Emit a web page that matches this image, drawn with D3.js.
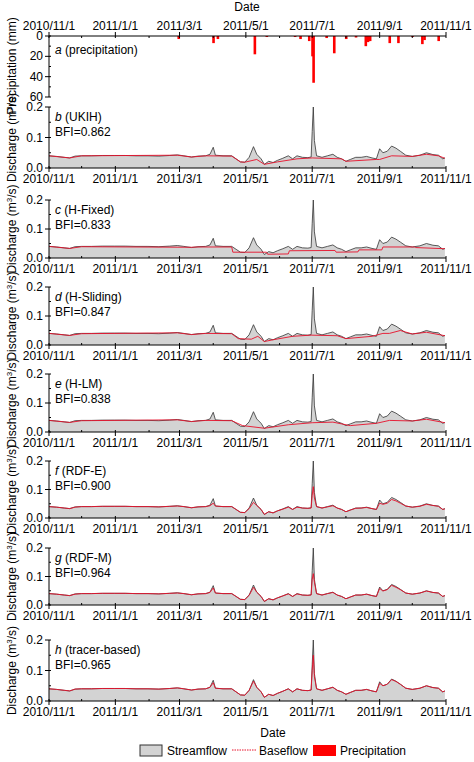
<!DOCTYPE html>
<html><head><meta charset="utf-8">
<script src="https://cdn.jsdelivr.net/npm/d3@7"></script>
<style>body{margin:0;background:#fff}text{font-family:Arial,"Liberation Sans",sans-serif}</style>
</head><body>
<svg id="chart" width="474" height="762"></svg>
<script>
const flowDates = ["2010-11-01","2010-11-08","2010-11-15","2010-11-20","2010-11-25","2010-12-01","2010-12-10","2010-12-20","2010-12-31","2011-01-10","2011-01-20","2011-01-31","2011-02-10","2011-02-20","2011-02-27","2011-03-05","2011-03-12","2011-03-18","2011-03-25","2011-03-29","2011-04-01","2011-04-03","2011-04-10","2011-04-18","2011-04-22","2011-04-26","2011-04-30","2011-05-04","2011-05-08","2011-05-11","2011-05-15","2011-05-18","2011-05-22","2011-05-26","2011-05-30","2011-06-04","2011-06-09","2011-06-13","2011-06-17","2011-06-22","2011-06-27","2011-06-30","2011-07-01","2011-07-02","2011-07-03","2011-07-05","2011-07-10","2011-07-15","2011-07-20","2011-07-24","2011-07-28","2011-08-01","2011-08-05","2011-08-10","2011-08-15","2011-08-20","2011-08-25","2011-08-29","2011-09-01","2011-09-04","2011-09-08","2011-09-12","2011-09-16","2011-09-20","2011-09-25","2011-10-01","2011-10-08","2011-10-14","2011-10-20","2011-10-25","2011-10-29","2011-10-31"];
const streamflow = [.040,.038,.035,.033,.039,.040,.040,.041,.041,.041,.040,.040,.039,.041,.043,.040,.036,.039,.040,.045,.068,.042,.040,.040,.030,.020,.019,.035,.070,.045,.030,.012,.022,.018,.025,.032,.040,.030,.040,.035,.034,.036,.120,.200,.090,.040,.035,.040,.045,.035,.030,.022,.028,.035,.035,.038,.033,.030,.063,.050,.055,.072,.065,.055,.042,.038,.042,.050,.044,.042,.030,.033];

// baseflow from the three digital filter / tracer methods, same dates as streamflow
const baseRdfE   = [.040,.038,.035,.033,.038,.040,.040,.041,.041,.041,.040,.040,.039,.041,.042,.040,.036,.039,.040,.043,.052,.042,.040,.040,.030,.020,.019,.033,.055,.044,.030,.013,.022,.018,.025,.031,.038,.030,.038,.035,.034,.035,.080,.110,.070,.040,.035,.039,.043,.035,.030,.022,.028,.034,.035,.037,.033,.030,.052,.048,.052,.065,.060,.052,.042,.038,.041,.048,.044,.041,.030,.032];
const baseRdfM   = [.040,.038,.035,.033,.038,.040,.040,.041,.041,.041,.040,.040,.039,.041,.042,.040,.036,.039,.040,.044,.060,.042,.040,.040,.030,.020,.019,.034,.062,.045,.030,.013,.022,.018,.025,.032,.039,.030,.039,.035,.034,.035,.090,.110,.080,.040,.035,.040,.044,.035,.030,.022,.028,.035,.035,.038,.033,.030,.058,.049,.054,.069,.062,.054,.042,.038,.042,.049,.044,.042,.030,.033];
const baseTracer = [.040,.038,.035,.033,.039,.040,.040,.041,.041,.041,.040,.040,.039,.041,.043,.040,.036,.039,.040,.045,.060,.042,.040,.040,.030,.020,.019,.035,.065,.045,.030,.012,.022,.018,.025,.032,.040,.030,.040,.035,.034,.036,.100,.150,.080,.040,.035,.040,.045,.035,.030,.022,.028,.035,.035,.038,.033,.030,.058,.050,.055,.070,.064,.055,.042,.038,.042,.050,.044,.042,.030,.033];

// baseflow from the separation methods, each on its own dates
const ukihDates = ["2010-11-01","2010-11-20","2010-12-01","2011-02-27","2011-03-12","2011-03-25","2011-04-18","2011-04-26","2011-04-30","2011-05-11","2011-05-18","2011-05-30","2011-06-17","2011-07-01","2011-07-28","2011-08-01","2011-08-29","2011-09-01","2011-09-12","2011-10-01","2011-10-14","2011-10-25","2011-10-31"];
const ukihBase = [.040,.033,.040,.042,.036,.040,.039,.020,.019,.028,.012,.020,.030,.033,.030,.022,.028,.028,.040,.038,.045,.040,.032];
const fixedDates = ["2010-11-01","2010-11-20","2010-12-01","2011-03-12","2011-03-18","2011-04-18","2011-04-19","2011-05-20","2011-05-21","2011-06-09","2011-06-10","2011-07-22","2011-07-23","2011-08-12","2011-08-13","2011-09-03","2011-09-04","2011-10-03","2011-10-04","2011-10-31"];
const fixedBase = [.040,.033,.039,.037,.038,.038,.020,.020,.013,.014,.025,.026,.020,.021,.028,.028,.038,.038,.036,.032];
const slidingDates = ["2010-11-01","2010-11-20","2010-12-01","2011-02-27","2011-03-12","2011-03-25","2011-04-18","2011-04-24","2011-05-06","2011-05-12","2011-05-18","2011-05-26","2011-06-13","2011-06-30","2011-07-24","2011-08-01","2011-08-25","2011-09-04","2011-09-10","2011-09-20","2011-10-01","2011-10-14","2011-10-31"];
const slidingBase = [.040,.033,.039,.042,.036,.040,.039,.022,.020,.030,.012,.018,.030,.034,.032,.022,.030,.040,.040,.050,.038,.044,.032];
const lmDates = ["2010-11-01","2010-11-20","2010-12-01","2011-02-27","2011-03-12","2011-03-25","2011-04-18","2011-04-28","2011-05-18","2011-06-09","2011-07-01","2011-07-20","2011-08-05","2011-08-29","2011-09-10","2011-10-01","2011-10-14","2011-10-31"];
const lmBase = [.040,.033,.039,.042,.036,.040,.039,.022,.013,.025,.032,.034,.022,.030,.040,.038,.044,.032];

const rainDates = ["2011-02-28","2011-04-01","2011-04-05","2011-05-09","2011-05-20","2011-06-15","2011-06-20","2011-06-28","2011-07-01","2011-07-02","2011-07-14","2011-07-21","2011-08-01","2011-08-10","2011-08-19","2011-08-21","2011-08-23","2011-09-10","2011-09-18","2011-10-01","2011-10-10","2011-10-12","2011-10-25"];
const rain = [3,7,3,18,1,1,3,5,20,46,2,17,3,1.5,10,6,5,7,7,1,8,4,5];

const panelLabels = ["b","c","d","e","f","g","h"];
const panelNames = ["(UKIH)","(H-Fixed)","(H-Sliding)","(H-LM)","(RDF-E)","(RDF-M)","(tracer-based)"];
const bfi = ["0.862","0.833","0.847","0.838","0.900","0.964","0.965"];
const tickDates = ["2010-11-01","2011-01-01","2011-03-01","2011-05-01","2011-07-01","2011-09-01","2011-11-01"];

const parse = d3.timeParse("%Y-%m-%d");
const flow = flowDates.map((d, i) => ({date: parse(d), v: streamflow[i]}));
const zip = (ds, vs) => ds.map((d, i) => ({date: parse(d), v: vs[i]}));
const baseflows = [
    zip(ukihDates, ukihBase), zip(fixedDates, fixedBase), zip(slidingDates, slidingBase), zip(lmDates, lmBase),
    zip(flowDates, baseRdfE), zip(flowDates, baseRdfM), zip(flowDates, baseTracer)
];

const svg = d3.select("#chart");
const left = 49, right = 446;
const x = d3.scaleTime().domain([parse("2010-11-01"), parse("2011-11-01")]).range([left, right]);
const majors = tickDates.map(parse);
const minors = d3.timeMonth.range(parse("2010-11-01"), parse("2011-11-02"));
const fmt = d3.timeFormat("%Y/%-m/%-d");
const font = 12;
const isMajor = d => majors.some(m => +m === +d);

function xAxis(g, y0, top) {
    g.append("line").attr("x1", left).attr("x2", right).attr("y1", y0).attr("y2", y0).attr("stroke", "#000");
    const dir = top ? -1 : 1;
    g.selectAll(null).data(minors).join("line")
        .attr("x1", d => x(d)).attr("x2", d => x(d))
        .attr("y1", y0 - dir * 2).attr("y2", d => y0 + (isMajor(d) ? dir * 4 : 0))
        .attr("stroke", "#000");
    g.selectAll(null).data(majors).join("text")
        .attr("x", d => x(d)).attr("y", top ? y0 - 6 : y0 + 15)
        .attr("text-anchor", "middle").attr("font-size", font).text(fmt);
}

function yAxis(g, y, ticks, minorTicks, f) {
    const [y1, y2] = y.range();
    g.append("line").attr("x1", left).attr("x2", left).attr("y1", y1).attr("y2", y2).attr("stroke", "#000");
    g.selectAll(null).data(minorTicks).join("line")
        .attr("x1", left).attr("x2", left + 2).attr("y1", d => y(d)).attr("y2", d => y(d)).attr("stroke", "#000");
    g.selectAll(null).data(ticks).join("line")
        .attr("x1", left - 4).attr("x2", left + 2).attr("y1", d => y(d)).attr("y2", d => y(d)).attr("stroke", "#000");
    g.selectAll(null).data(ticks).join("text")
        .attr("x", left - 6).attr("y", d => y(d) + 4).attr("text-anchor", "end").attr("font-size", font).text(f);
}

// panel a: precipitation, inverted
const ya = d3.scaleLinear().domain([0, 60]).range([36, 97]);
const ga = svg.append("g");
ga.selectAll(null).data(rainDates).join("rect")
    .attr("x", d => x(parse(d)) - 1).attr("width", 2.6)
    .attr("y", ya(0)).attr("height", (d, i) => ya(rain[i]) - ya(0)).attr("fill", "#f00");
xAxis(ga, 36, true);
yAxis(ga, ya, [0, 20, 40, 60], [10, 30, 50], d => d);
ga.append("text").attr("x", 247).attr("y", 11).attr("text-anchor", "middle").attr("font-size", font).text("Date");
ga.append("text").attr("transform", "translate(16,66) rotate(-90)").attr("text-anchor", "middle")
    .attr("font-size", font).text("Precipitation (mm)");
ga.append("text").attr("x", 55).attr("y", 54).attr("font-size", font)
    .call(t => { t.append("tspan").attr("font-style", "italic").text("a"); t.append("tspan").text(" (precipitation)"); });

// discharge panels
const tops = [107, 200, 287, 374, 461, 548, 640];
const bottoms = [168, 258, 345, 432, 518, 605, 701];
panelLabels.forEach((lab, i) => {
    const y = d3.scaleLinear().domain([0, 0.2]).range([bottoms[i], tops[i]]);
    const g = svg.append("g");
    g.append("path").datum(flow)
        .attr("d", d3.area().x(d => x(d.date)).y0(y(0)).y1(d => y(d.v)))
        .attr("fill", "#d3d3d3");
    g.append("path").datum(flow)
        .attr("d", d3.line().x(d => x(d.date)).y(d => y(d.v)))
        .attr("fill", "none").attr("stroke", "#333").attr("stroke-width", 0.8);
    g.append("path").datum(baseflows[i])
        .attr("d", d3.line().x(d => x(d.date)).y(d => y(d.v)))
        .attr("fill", "none").attr("stroke", "#e8102a").attr("stroke-width", 0.9);
    xAxis(g, bottoms[i], false);
    yAxis(g, y, [0, 0.1, 0.2], [0.05, 0.15], d3.format(".1f"));
    g.append("text").attr("x", 55).attr("y", tops[i] + 14).attr("font-size", font)
        .call(t => { t.append("tspan").attr("font-style", "italic").text(lab); t.append("tspan").text(" " + panelNames[i]); });
    g.append("text").attr("x", 55).attr("y", tops[i] + 29).attr("font-size", font).text("BFI=" + bfi[i]);
    g.append("text").attr("transform", `translate(16,${(tops[i] + bottoms[i]) / 2}) rotate(-90)`)
        .attr("text-anchor", "middle").attr("font-size", font)
        .call(t => { t.append("tspan").text("Discharge (m"); t.append("tspan").attr("baseline-shift", "super").attr("font-size", 8).text("3"); t.append("tspan").attr("baseline-shift", "0").text("/s)"); });
});

// legend
svg.append("text").attr("x", 273).attr("y", 737).attr("text-anchor", "middle").attr("font-size", font).text("Date");
const lg = svg.append("g");
lg.append("rect").attr("x", 140).attr("y", 745).attr("width", 22).attr("height", 11).attr("fill", "#d3d3d3").attr("stroke", "#333");
lg.append("text").attr("x", 167).attr("y", 755).attr("font-size", font).text("Streamflow");
lg.append("line").attr("x1", 232).attr("x2", 256).attr("y1", 750).attr("y2", 750).attr("stroke", "#e8102a").attr("stroke-dasharray", "1.5,1");
lg.append("text").attr("x", 259).attr("y", 755).attr("font-size", font).text("Baseflow");
lg.append("rect").attr("x", 313).attr("y", 745).attr("width", 23).attr("height", 11).attr("fill", "#f00");
lg.append("text").attr("x", 340).attr("y", 755).attr("font-size", font).text("Precipitation");
</script>
</body></html>
